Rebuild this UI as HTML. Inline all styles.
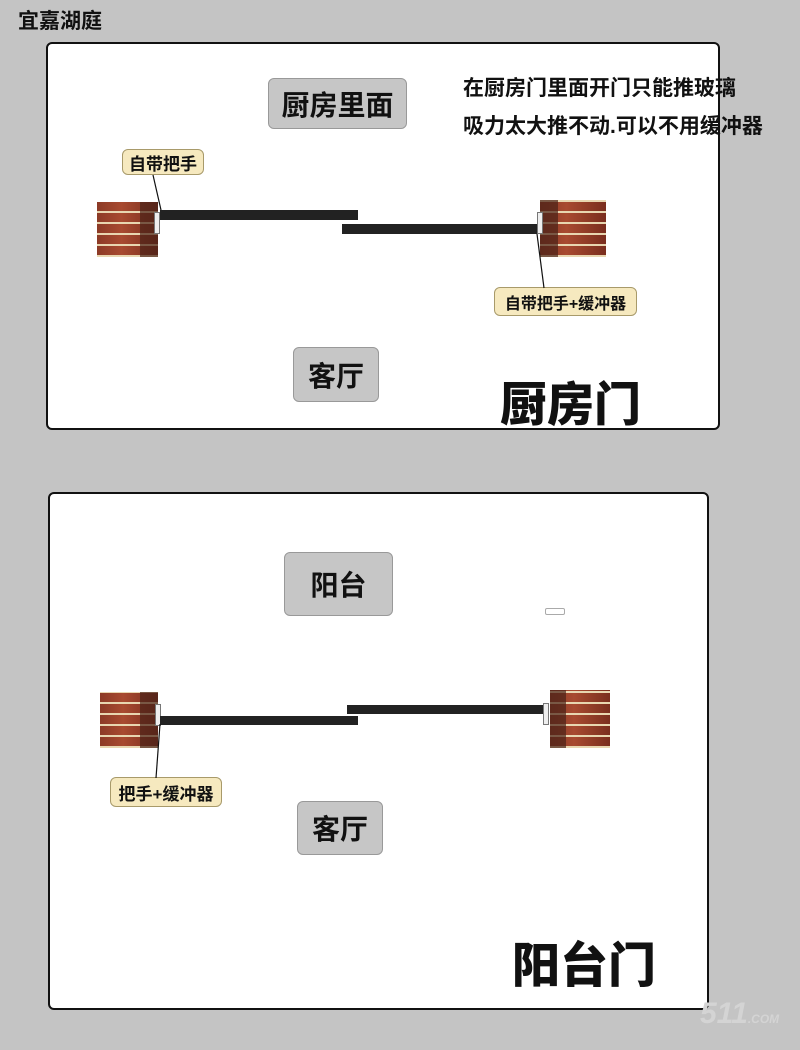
<!DOCTYPE html>
<html><head><meta charset="utf-8"><style>
body{margin:0;width:800px;height:1050px;background:#c4c4c4;position:relative;overflow:hidden;font-family:"Liberation Sans","Noto Sans CJK SC",sans-serif;font-weight:bold;color:#111}
.a{position:absolute}
.panel{position:absolute;background:#fff;border:2px solid #111;border-radius:6px;box-sizing:border-box}
.gbox{position:absolute;background:#c6c6c6;border:1px solid #999;border-radius:6px;box-sizing:border-box;display:flex;align-items:center;justify-content:center;font-size:28px}
.lbl{position:absolute;background:#f6e9bf;border:1px solid #a89a6a;border-radius:6px;box-sizing:border-box;display:flex;align-items:center;justify-content:center;font-size:17px;white-space:nowrap}
.brick{position:absolute;background:
 repeating-linear-gradient(0deg,#e8d6b0 0 2px,transparent 2px 11px),
 linear-gradient(90deg,#8c3a26,#a84a30 40%,#7a2e1e);}
.bar{position:absolute;background:#222}
.hinge{position:absolute;background:#eee;border:1px solid #777;box-sizing:border-box}
</style></head><body>
<div class="a" style="left:18px;top:5px;font-size:21px">宜嘉湖庭</div>

<div class="panel" style="left:46px;top:42px;width:674px;height:388px"></div>
<div class="gbox" style="left:268px;top:78px;width:139px;height:51px">厨房里面</div>
<div class="a" style="left:463px;top:70px;font-size:21px;line-height:38px;white-space:nowrap">在厨房门里面开门只能推玻璃<br>吸力太大推不动.可以不用缓冲器</div>
<div class="lbl" style="left:122px;top:149px;width:82px;height:26px">自带把手</div>
<div class="brick" style="left:97px;top:202px;width:61px;height:55px"></div>
<div class="a" style="left:140px;top:202px;width:18px;height:55px;background:#4a2218;opacity:.7"></div>
<div class="hinge" style="left:154px;top:212px;width:6px;height:22px"></div>
<div class="bar" style="left:160px;top:210px;width:198px;height:10px"></div>
<div class="bar" style="left:342px;top:224px;width:198px;height:10px"></div>
<div class="brick" style="left:540px;top:200px;width:66px;height:57px"></div>
<div class="a" style="left:540px;top:200px;width:18px;height:57px;background:#4a2218;opacity:.7"></div>
<div class="hinge" style="left:537px;top:212px;width:6px;height:22px"></div>
<div class="lbl" style="left:494px;top:287px;width:143px;height:29px;font-size:16px">自带把手+缓冲器</div>
<div class="gbox" style="left:293px;top:347px;width:86px;height:55px">客厅</div>
<div class="a" style="left:500px;top:366px;font-size:47px;font-weight:900">厨房门</div>

<div class="panel" style="left:48px;top:492px;width:661px;height:518px"></div>
<div class="gbox" style="left:284px;top:552px;width:109px;height:64px">阳台</div>
<div class="a" style="left:545px;top:608px;width:18px;height:5px;border:1px solid #aaa;border-radius:2px"></div>
<div class="brick" style="left:100px;top:692px;width:58px;height:56px"></div>
<div class="a" style="left:140px;top:692px;width:18px;height:56px;background:#4a2218;opacity:.7"></div>
<div class="hinge" style="left:155px;top:704px;width:6px;height:22px"></div>
<div class="bar" style="left:160px;top:716px;width:198px;height:9px"></div>
<div class="bar" style="left:347px;top:705px;width:200px;height:9px"></div>
<div class="brick" style="left:550px;top:690px;width:60px;height:58px"></div>
<div class="a" style="left:550px;top:690px;width:16px;height:58px;background:#4a2218;opacity:.7"></div>
<div class="hinge" style="left:543px;top:703px;width:6px;height:22px"></div>
<div class="lbl" style="left:110px;top:777px;width:112px;height:30px">把手+缓冲器</div>
<div class="gbox" style="left:297px;top:801px;width:86px;height:54px">客厅</div>
<div class="a" style="left:512px;top:926px;font-size:48px;font-weight:900">阳台门</div>
<svg class="a" style="left:0;top:0" width="800" height="1050"><line x1="153" y1="175" x2="161" y2="210" stroke="#111" stroke-width="1.2"/><line x1="537" y1="234" x2="544" y2="288" stroke="#111" stroke-width="1.2"/><line x1="160" y1="724" x2="156" y2="778" stroke="#111" stroke-width="1.2"/></svg>
<div class="a" style="left:700px;top:997px;font-size:30px;color:#d4d4d4;font-style:italic">511<span style="font-size:12px">.COM</span></div>
</body></html>
